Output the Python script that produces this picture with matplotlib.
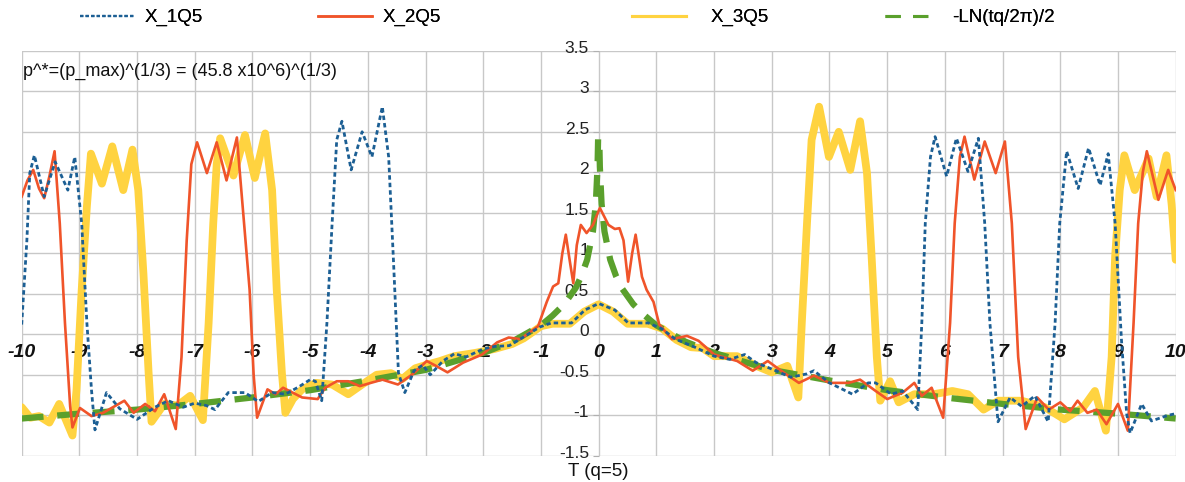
import matplotlib
matplotlib.use("Agg")
import matplotlib.pyplot as plt
import matplotlib.transforms as mtransforms
from matplotlib.lines import Line2D
import numpy as np

plt.rcParams['font.family'] = ['Liberation Sans', 'DejaVu Sans']

# (T, value) pairs
X_1Q5 = [(-10.0, 0.12), (-9.91, 1.16), (-9.86, 1.99), (-9.78, 2.21), (-9.61, 1.70),
         (-9.42, 2.13), (-9.20, 1.78), (-9.08, 2.19), (-8.96, 1.37), (-8.87, 0.14),
         (-8.79, -0.69), (-8.73, -1.18), (-8.53, -0.72), (-8.30, -0.92), (-8.00, -1.05),
         (-7.69, -0.90), (-7.46, -0.82), (-7.20, -0.90), (-7.00, -0.85), (-6.80, -0.88),
         (-6.65, -0.93), (-6.42, -0.72), (-6.13, -0.72), (-5.90, -0.83), (-5.66, -0.72),
         (-5.43, -0.74), (-5.20, -0.65), (-5.00, -0.56), (-4.91, -0.58), (-4.80, -0.82),
         (-4.71, 0.14), (-4.62, 1.37), (-4.54, 2.40), (-4.45, 2.63), (-4.29, 2.03),
         (-4.10, 2.50), (-3.93, 2.19), (-3.75, 2.81), (-3.64, 2.19), (-3.56, 0.96),
         (-3.47, -0.48), (-3.36, -0.72), (-3.20, -0.45), (-3.05, -0.38), (-2.92, -0.50),
         (-2.70, -0.33), (-2.50, -0.24), (-2.30, -0.28), (-2.00, -0.18), (-1.80, -0.15),
         (-1.55, -0.14), (-1.34, -0.05), (-1.02, 0.09), (-0.82, 0.14), (-0.47, 0.14),
         (-0.24, 0.30), (0.0, 0.38), (0.28, 0.30), (0.51, 0.14), (0.86, 0.14),
         (1.09, 0.07), (1.33, -0.06), (1.67, -0.16), (2.00, -0.27), (2.27, -0.31),
         (2.53, -0.25), (2.73, -0.35), (3.07, -0.45), (3.33, -0.53), (3.60, -0.49),
         (3.73, -0.45), (4.00, -0.60), (4.40, -0.74), (4.67, -0.60), (4.80, -0.60),
         (5.07, -0.74), (5.27, -0.70), (5.53, -0.93), (5.60, 0.14), (5.66, 1.37),
         (5.75, 2.19), (5.83, 2.44), (6.03, 1.95), (6.20, 2.42), (6.40, 2.01),
         (6.58, 2.42), (6.69, 1.37), (6.78, 0.14), (6.92, -1.08), (7.13, -0.78),
         (7.33, -0.89), (7.56, -0.76), (7.79, -1.08), (7.91, 0.14), (7.99, 1.37),
         (8.11, 2.26), (8.31, 1.80), (8.49, 2.30), (8.69, 1.84), (8.83, 2.23),
         (8.95, 1.37), (9.06, -0.07), (9.15, -0.98), (9.21, -1.22), (9.41, -0.86),
         (9.58, -1.07), (9.87, -1.00), (10.0, -0.98)]

X_2Q5 = [(-10.0, 1.70), (-9.90, 1.90), (-9.80, 2.03), (-9.70, 1.80), (-9.61, 1.68),
         (-9.52, 1.95), (-9.43, 2.26), (-9.34, 1.37), (-9.25, 0.14), (-9.16, -0.89),
         (-9.12, -1.15), (-8.99, -0.91), (-8.79, -1.01), (-8.59, -0.97), (-8.22, -0.82),
         (-8.06, -0.97), (-7.86, -0.86), (-7.69, -0.95), (-7.53, -0.74), (-7.33, -1.17),
         (-7.23, -0.28), (-7.14, 1.16), (-7.06, 2.10), (-6.96, 2.37), (-6.79, 1.99),
         (-6.62, 2.37), (-6.45, 1.90), (-6.27, 2.43), (-6.16, 1.49), (-6.05, 0.55),
         (-5.98, -0.50), (-5.92, -1.03), (-5.74, -0.68), (-5.60, -0.74), (-5.47, -0.66),
         (-5.14, -0.78), (-4.87, -0.80), (-4.74, -0.66), (-4.54, -0.58), (-4.34, -0.58),
         (-4.14, -0.64), (-3.95, -0.60), (-3.75, -0.56), (-3.48, -0.62), (-3.22, -0.49),
         (-2.98, -0.33), (-2.82, -0.39), (-2.62, -0.47), (-2.35, -0.35), (-2.02, -0.25),
         (-1.76, -0.10), (-1.56, -0.04), (-1.36, -0.06), (-1.05, 0.10), (-0.90, 0.40),
         (-0.79, 0.59), (-0.70, 0.63), (-0.63, 1.00), (-0.57, 1.23), (-0.50, 0.90),
         (-0.44, 0.63), (-0.38, 1.10), (-0.31, 1.35), (-0.21, 1.25), (-0.10, 1.35),
         (0.02, 1.56), (0.17, 1.35), (0.28, 1.30), (0.36, 1.31), (0.43, 1.16),
         (0.51, 0.65), (0.58, 1.00), (0.64, 1.23), (0.70, 0.95), (0.75, 0.71),
         (0.83, 0.55), (0.95, 0.40), (1.05, 0.12), (1.27, -0.06), (1.53, -0.02),
         (1.73, -0.08), (2.00, -0.25), (2.40, -0.33), (2.67, -0.45), (2.93, -0.33),
         (3.20, -0.47), (3.47, -0.60), (3.73, -0.51), (4.00, -0.60), (4.33, -0.60),
         (4.53, -0.56), (4.80, -0.70), (5.00, -0.80), (5.27, -0.72), (5.47, -0.60),
         (5.60, -0.76), (5.77, -0.66), (5.97, -1.03), (6.09, 0.14), (6.17, 1.37),
         (6.26, 2.19), (6.34, 2.44), (6.51, 1.91), (6.69, 2.38), (6.88, 1.99),
         (7.04, 2.38), (7.16, 1.37), (7.27, -0.28), (7.40, -1.17), (7.60, -0.78),
         (7.80, -0.93), (8.00, -0.84), (8.17, -0.95), (8.30, -0.82), (8.47, -0.97),
         (8.63, -0.93), (8.80, -1.11), (9.00, -0.86), (9.17, -1.19), (9.27, 0.14),
         (9.35, 1.37), (9.43, 2.00), (9.50, 2.26), (9.70, 1.66), (9.87, 2.03),
         (10.0, 1.78)]

X_3Q5 = [(-10.0, -0.90), (-9.85, -1.03), (-9.70, -1.01), (-9.52, -1.09), (-9.35, -0.86),
         (-9.12, -1.25), (-9.05, -0.69), (-8.96, 0.55), (-8.87, 1.58), (-8.80, 2.23),
         (-8.61, 1.86), (-8.43, 2.32), (-8.24, 1.78), (-8.08, 2.28), (-7.98, 1.78),
         (-7.89, 0.75), (-7.80, -0.48), (-7.75, -1.08), (-7.53, -0.86), (-7.30, -0.88),
         (-7.08, -0.76), (-6.86, -1.06), (-6.76, 0.14), (-6.68, 1.37), (-6.62, 2.10),
         (-6.56, 2.42), (-6.33, 1.96), (-6.13, 2.46), (-5.96, 1.93), (-5.78, 2.48),
         (-5.66, 1.78), (-5.58, 0.55), (-5.49, -0.48), (-5.43, -0.97), (-5.30, -0.80),
         (-5.14, -0.68), (-4.90, -0.60), (-4.62, -0.62), (-4.34, -0.74), (-4.10, -0.62),
         (-3.85, -0.50), (-3.60, -0.48), (-3.40, -0.55), (-3.18, -0.42), (-3.00, -0.38),
         (-2.75, -0.33), (-2.50, -0.27), (-2.14, -0.23), (-1.80, -0.18), (-1.50, -0.12),
         (-1.30, -0.05), (-1.00, 0.10), (-0.80, 0.13), (-0.50, 0.13), (-0.25, 0.28),
         (0.0, 0.37), (0.25, 0.28), (0.50, 0.13), (0.85, 0.13), (1.10, 0.07),
         (1.35, -0.07), (1.60, -0.16), (1.80, -0.17), (2.00, -0.27), (2.40, -0.27),
         (2.73, -0.39), (3.00, -0.47), (3.27, -0.39), (3.46, -0.78), (3.52, 0.14),
         (3.61, 1.37), (3.69, 2.40), (3.82, 2.81), (3.99, 2.19), (4.16, 2.50),
         (4.36, 2.03), (4.53, 2.63), (4.65, 1.99), (4.73, 0.96), (4.82, -0.28),
         (4.88, -0.82), (5.05, -0.58), (5.20, -0.84), (5.47, -0.74), (5.80, -0.74),
         (6.13, -0.70), (6.40, -0.74), (6.67, -0.93), (6.93, -0.82), (7.33, -0.82),
         (7.73, -0.90), (8.07, -1.05), (8.40, -0.90), (8.60, -0.70), (8.79, -1.19),
         (8.89, -0.28), (8.95, 0.96), (9.03, 1.78), (9.11, 2.21), (9.29, 1.78),
         (9.53, 2.17), (9.67, 1.70), (9.84, 2.21), (9.93, 1.60), (10.0, 0.92)]

LN_CURVE = [(-10.0, -1.04), (-9.0, -0.98), (-8.0, -0.93), (-7.0, -0.86), (-6.0, -0.78),
            (-5.0, -0.69), (-4.0, -0.57), (-3.0, -0.44), (-2.0, -0.23), (-1.5, -0.09),
            (-1.0, 0.11), (-0.8, 0.23), (-0.6, 0.37), (-0.4, 0.57), (-0.3, 0.72),
            (-0.2, 0.92), (-0.1, 1.27), (-0.05, 1.61), (-0.02, 2.07), (-0.01, 2.42),
            (0.01, 2.42), (0.02, 2.07), (0.05, 1.61), (0.1, 1.27), (0.2, 0.92),
            (0.3, 0.72), (0.4, 0.57), (0.6, 0.37), (0.8, 0.23), (1.0, 0.11),
            (1.5, -0.09), (2.0, -0.23), (3.0, -0.44), (4.0, -0.57), (5.0, -0.69),
            (6.0, -0.78), (7.0, -0.86), (8.0, -0.93), (9.0, -0.98), (10.0, -1.04)]

x_ticks = list(range(-10, 11))
y_ticks = [-1.5, -1, -0.5, 0, 0.5, 1, 1.5, 2, 2.5, 3, 3.5]
y_tick_labels = ['-1.5', '-1', '-0.5', '0', '0.5', '1', '1.5', '2', '2.5', '3', '3.5']

BLUE = '#1c5f94'
RED = '#f0542a'
YELLOW = '#ffd340'
GREEN = '#5aa02c'

fig = plt.figure(figsize=(11.85, 4.82), dpi=100)
ax = fig.add_axes([0.0183, 0.0544, 0.99215 - 0.0183, 0.8946 - 0.0544])

# axes cross at the origin (set before tick styling, since it resets the ticks)
ax.spines['left'].set_position(('data', 0))
ax.spines['bottom'].set_position(('data', 0))
for s in ax.spines.values():
    s.set_visible(False)

x3, y3 = np.array(X_3Q5).T
xg, yg = np.array(LN_CURVE).T
x2, y2 = np.array(X_2Q5).T
x1, y1 = np.array(X_1Q5).T

ax.plot(x3, y3, color=YELLOW, lw=5.6, solid_capstyle='round',
        solid_joinstyle='round', zorder=2)
ax.plot(xg, yg, color=GREEN, lw=4.5, dashes=(3.5, 2.2), zorder=3)
ax.plot(x2, y2, color=RED, lw=1.9, solid_joinstyle='round', zorder=4)
ax.plot(x1, y1, color=BLUE, lw=2.0, dashes=(1.6, 1.1), zorder=5)

ax.set_xlim(-10, 10)
ax.set_ylim(-1.5, 3.5)
ax.set_xticks(x_ticks)
ax.set_xticklabels([str(t) for t in x_ticks], fontsize=14, fontweight='bold',
                   fontstyle='italic', color='#111111')
ax.set_yticks(y_ticks)
ax.set_yticklabels(y_tick_labels, fontsize=12.5, color='#222222')
ax.tick_params(axis='x', length=0, pad=7)
ax.tick_params(axis='y', length=4, color='#b0b0b0', pad=3)

# y labels sit a little above their grid lines in the original
lift = mtransforms.ScaledTranslation(0, 3 / 72, fig.dpi_scale_trans)
for lab in ax.get_yticklabels():
    lab.set_transform(lab.get_transform() + lift)

ax.grid(True, color='#c8c8c8', lw=1.0)
ax.set_axisbelow(True)

ax.text(-9.97, 3.24, 'p^*=(p_max)^(1/3) = (45.8 x10^6)^(1/3)', fontsize=13,
        ha='left', va='center', color='#111111')

ax.set_xlabel('T (q=5)', fontsize=13.5, color='#111111')
ax.xaxis.set_label_coords(0.5, -0.017)

# legend entries placed along the top like the original
handles = [Line2D([], [], color=BLUE, lw=1.6, dashes=(1.5, 1.0)),
           Line2D([], [], color=RED, lw=1.8),
           Line2D([], [], color=YELLOW, lw=2.2),
           Line2D([], [], color=GREEN, lw=2.2, dashes=(5, 4))]
labels = ['X_1Q5', 'X_2Q5', 'X_3Q5', '-LN(tq/2\u03c0)/2']
starts = [80, 318, 632, 885]
hlens = [2.9, 2.9, 2.9, 2.6]
pads = [0.55, 0.55, 1.3, 1.0]
for h, lab, x0, hl, tp in zip(handles, labels, starts, hlens, pads):
    leg = fig.legend([h], [lab], loc='center left', bbox_to_anchor=(x0 / 1185, 0.963),
                     frameon=False, fontsize=13.5, handlelength=hl, handletextpad=tp,
                     borderpad=0, borderaxespad=0)
    fig.add_artist(leg)

fig.savefig('out.png', dpi=100)
